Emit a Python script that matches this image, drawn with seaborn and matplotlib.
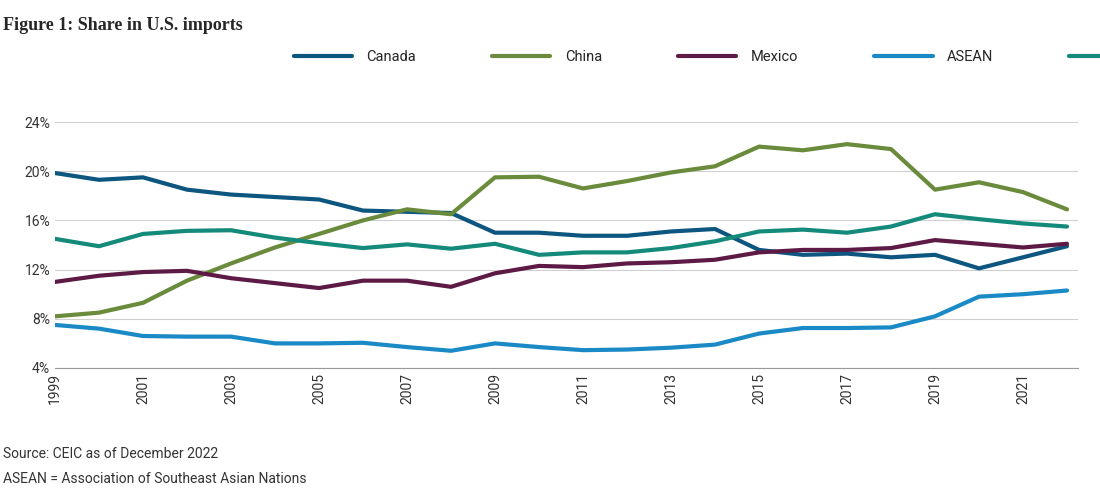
import matplotlib
matplotlib.use("Agg")
import matplotlib.pyplot as plt
import seaborn as sns
import pandas as pd
from matplotlib.ticker import FuncFormatter

years = list(range(1999, 2023))
canada = [19.85,19.3,19.5,18.5,18.1,17.9,17.7,16.8,16.7,16.6,15.0,15.0,14.75,14.75,15.1,15.3,13.6,13.2,13.3,13.0,13.2,12.1,13.0,13.9]
china = [8.2,8.5,9.3,11.1,12.5,13.8,14.9,16.0,16.9,16.5,19.5,19.55,18.6,19.2,19.9,20.4,22.0,21.7,22.2,21.8,18.5,19.1,18.3,16.9]
mexico = [11.0,11.5,11.8,11.9,11.3,10.9,10.5,11.1,11.1,10.6,11.7,12.3,12.2,12.5,12.6,12.8,13.4,13.6,13.6,13.75,14.4,14.1,13.8,14.1]
asean = [7.5,7.2,6.6,6.55,6.55,6.0,6.0,6.05,5.7,5.4,6.0,5.7,5.45,5.5,5.65,5.9,6.8,7.25,7.25,7.3,8.2,9.8,10.0,10.3]
euro = [14.5,13.9,14.9,15.15,15.2,14.6,14.15,13.75,14.05,13.7,14.1,13.2,13.4,13.4,13.75,14.3,15.1,15.25,15.0,15.5,16.5,16.1,15.75,15.5]
series = {"Canada": canada, "China": china, "Mexico": mexico, "ASEAN": asean, "Euro area": euro}
colors = {"Canada": "#0d5680", "China": "#6a8a3c", "Mexico": "#5c1a45", "ASEAN": "#1a8ac6", "Euro area": "#148a7a"}

df = pd.DataFrame([{"year": y, "country": k, "share": v} for k, vals in series.items() for y, v in zip(years, vals)])

sns.set_style("white")
plt.rcParams['font.family'] = ['Roboto', 'DejaVu Sans']
fig = plt.figure(figsize=(11, 4.9), dpi=100)
ax = fig.add_axes([0.05, 0.249, 0.93, 0.502])
sns.lineplot(data=df, x="year", y="share", hue="country", palette=colors, linewidth=3, ax=ax, legend=False)
ax.set_ylim(4, 24)
ax.set_yticks([4, 8, 12, 16, 20, 24])
ax.yaxis.set_major_formatter(FuncFormatter(lambda v, p: f"{int(v)}%"))
ax.set_xlim(1999, 2022.25)
ax.set_xticks(list(range(1999, 2023, 2)))
ax.tick_params(axis='x', rotation=90, labelsize=10, colors="#333333", length=0)
ax.tick_params(axis='y', labelsize=10, colors="#333333", length=0)
ax.grid(axis='y', color="#d0d0d0", linewidth=0.8)
for s in ["top", "right", "left"]:
    ax.spines[s].set_visible(False)
ax.spines["bottom"].set_color("#999999")
ax.set_xlabel(""); ax.set_ylabel("")

handles = [plt.Line2D([0], [0], color=colors[k], lw=3) for k in series]
fig.legend(handles, list(series.keys()), loc="center left", bbox_to_anchor=(0.255, 0.883), ncol=5,
           frameon=False, fontsize=10.5, handlelength=4, columnspacing=5.2, handletextpad=1.0)

fig.text(0.003, 0.965, "Figure 1: Share in U.S. imports", fontsize=13, fontweight="bold",
         family=["Liberation Serif", "DejaVu Serif"], va="top")
fig.text(0.003, 0.065, "Source: CEIC as of December 2022", fontsize=10, color="#333333")
fig.text(0.003, 0.015, "ASEAN = Association of Southeast Asian Nations", fontsize=10, color="#333333")
fig.savefig("out.png", dpi=100)
